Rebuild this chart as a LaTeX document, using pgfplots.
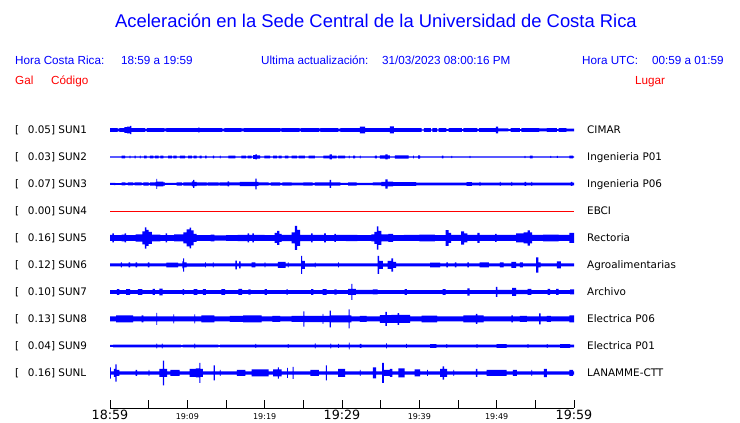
\documentclass[border=0pt]{standalone}
\usepackage{pgfplots}
\pgfplotsset{compat=1.18}
\usepackage{pgfplotstable}
\usepgfplotslibrary{fillbetween}
\usepackage{fontspec}
\setmainfont{DejaVu Sans}
\newfontfamily\arial{Liberation Sans}
\definecolor{tblue}{RGB}{0,0,255}
\definecolor{tred}{RGB}{255,0,0}

% envelopes: t = minutes after 18:59, a = half amplitude (px)
\pgfplotstableread{
t a
0 1.8
1.0 1.4
1.2 1.8
1.85 2.8
2.2 3.3
2.6 4.2
2.75 1.8
4.5 1.4
4.8 1.8
7.0 1.5
7.3 1.8
11.4 2.4
11.6 1.8
14.5 1.4
14.8 1.8
17.0 1.5
17.3 1.8
22.0 1.5
22.2 1.8
24.5 1.5
24.7 1.8
27.0 1.5
27.2 1.8
29.5 1.4
29.8 1.8
32.3 3.3
33.0 1.8
36.2 3.5
36.7 1.8
40.3 0.6
40.6 1.8
41.5 0.6
41.7 1.8
42.3 0.6
42.5 1.8
43.5 0.8
43.8 1.8
45.5 0.8
45.7 1.8
47.5 0.8
47.7 1.8
49.9 3.3
50.2 1.5
51.5 0.8
51.8 1.8
53.0 0.8
53.2 1.8
55.5 1.5
56.5 1.8
57.8 0.8
58.0 1.8
59.0 1.3
60 1.3
}\sunA
\pgfplotstableread{
t a
0 0.6
1.5 1.4
1.95 0.6
2.55 1.4
2.65 0.6
3.2 1.4
3.3 0.6
3.85 1.4
3.95 0.6
4.4 1.4
4.75 0.6
5.15 1.4
5.6 0.6
5.8 1.4
6.3 0.6
6.5 1.4
6.9 0.6
7.5 1.4
8.0 0.6
8.2 1.4
8.6 0.6
9.05 1.4
9.7 0.6
10.1 1.4
10.6 0.6
10.8 1.4
11.2 0.6
11.6 1.4
11.85 0.6
12.3 1.4
12.5 0.6
13.3 1.4
13.45 0.6
14.2 1.4
14.3 0.6
15.3 1.4
16.2 0.6
17.0 1.4
17.6 0.6
17.8 1.4
18.3 0.6
18.5 1.8
18.8 2.5
19.0 1.6
19.4 0.6
19.95 1.4
20.7 0.6
21.1 1.4
21.6 0.6
21.8 1.4
22.2 0.6
22.6 1.4
23.05 0.6
23.5 1.4
24.2 0.6
24.4 1.4
25.2 0.6
25.7 1.4
26.5 0.6
27.6 1.4
28.4 2.5
28.7 1.4
29.3 0.6
29.5 1.4
30.4 0.6
30.9 1.4
31.0 0.6
31.45 1.4
31.7 0.6
32.3 1.4
32.4 0.6
34.25 1.4
34.5 0.6
34.9 1.6
35.6 2.5
35.9 1.6
36.2 0.6
36.85 1.6
38.6 0.6
39.2 1.4
39.3 0.6
39.85 1.6
40.1 0.6
42.9 1.4
43.1 0.6
44.15 1.2
44.25 0.6
46.5 1.2
46.6 0.6
53.6 1.2
53.7 0.6
54.3 1.4
54.65 0.6
56.95 1.0
57.05 0.6
57.8 1.0
57.9 0.6
59.4 1.4
59.9 0.6
60 0.6
}\sunB
\pgfplotstableread{
t a
0 1.0
0.5 1.2
0.7 0.9
1.5 1.5
2.0 1.0
2.3 1.5
3.0 1.0
3.2 1.5
4.1 1.0
4.3 1.6
5.0 1.1
5.2 1.6
5.9 2.2
6.0 5.0
6.1 2.4
6.9 1.6
7.1 1.0
8.6 1.7
9.3 1.2
9.5 1.7
10.6 2.5
10.75 4.0
10.9 2.2
11.2 1.7
12.5 1.3
12.7 1.7
14.0 1.3
14.2 1.7
15.2 2.5
15.4 1.5
16.8 2.2
18.8 5.3
18.95 2.0
19.2 1.5
20.5 1.1
20.8 1.6
22.0 1.1
22.3 1.6
23.5 1.3
25.0 1.6
26.2 1.2
26.5 1.6
28.4 4.0
28.6 1.7
29.8 1.0
30.8 1.7
31.9 1.2
34.0 1.5
35.1 2.2
35.6 4.7
35.9 2.4
36.6 1.8
39.6 1.3
41.0 1.3
46.1 1.9
46.8 1.4
47.8 2.0
47.9 1.4
50.4 2.0
50.5 1.4
51.9 2.0
52.0 1.4
53.6 2.0
53.8 1.4
54.5 2.0
54.6 1.4
59.6 2.0
59.8 1.4
60 1.4
}\sunC
\pgfplotstableread{
t a
0 3.0
0.3 4.5
0.5 2.8
1.5 3.3
1.9 4.5
2.1 2.8
3.3 3.6
4.2 6.5
4.5 10.7
4.7 8.0
5.0 6.0
5.4 3.3
6.5 2.8
7.2 4.5
7.4 2.8
8.3 3.5
9.5 5.5
9.9 8.5
10.3 10.3
10.5 7.5
10.8 4.0
11.2 2.8
13.0 3.3
13.5 2.6
15.0 2.8
16.5 3.2
17.8 4.5
18.0 3.0
18.4 4.5
18.6 3.0
20.0 2.8
21.3 5.0
21.6 7.0
21.9 4.0
22.2 3.2
23.5 5.5
23.9 12.0
24.2 8.0
24.6 3.2
26.0 4.5
26.2 3.0
27.7 4.5
27.9 2.8
29.0 4.0
29.2 3.0
30.5 3.2
32.0 2.8
33.8 3.5
34.2 6.0
34.5 11.7
34.7 7.0
35.1 3.5
36.0 4.0
36.6 2.8
38.0 3.0
40.0 3.3
42.0 2.8
43.4 7.8
43.8 5.0
44.1 3.0
45.4 6.7
45.8 4.5
46.2 3.0
47.5 5.0
47.8 3.0
49.8 4.0
50.0 3.0
52.5 4.5
53.5 5.5
54.0 7.7
54.3 5.5
54.6 3.0
56.0 3.3
58.0 3.0
59.4 5.0
60 5.0
}\sunE
\pgfplotstableread{
t a
0 1.5
1.4 2.5
1.55 1.5
2.4 2.5
2.6 1.5
3.3 2.5
3.5 1.5
4.9 2.5
5.1 1.5
7.3 2.3
8.8 1.5
9.35 3.5
9.45 6.7
9.6 2.5
9.9 1.6
12.3 2.5
12.4 1.5
13.3 2.5
13.4 1.5
16.2 4.3
16.4 1.5
16.7 3.5
16.9 1.5
18.3 2.5
18.8 1.5
20.0 2.5
20.1 1.5
21.7 3.0
22.7 1.5
23.0 2.5
23.1 1.5
24.7 9.0
24.85 4.0
25.2 1.6
26.5 2.3
26.6 1.5
29.5 2.5
29.6 1.5
34.6 9.0
34.8 4.0
35.3 1.6
35.9 4.0
36.4 6.7
36.6 3.0
37.0 1.5
41.4 2.3
42.7 1.5
43.5 2.5
43.7 1.5
44.6 2.5
44.8 1.5
46.2 2.5
46.4 1.5
47.8 2.5
49.0 1.5
50.4 2.5
50.9 1.5
51.9 3.0
52.5 1.5
53.0 2.5
53.4 1.5
55.1 7.7
55.4 2.5
55.7 1.5
57.8 3.5
58.3 1.5
60 1.5
}\sunF
\pgfplotstableread{
t a
0 1.8
0.9 2.8
1.2 1.8
2.1 2.8
2.6 1.8
3.6 2.8
4.2 1.8
5.5 3.0
5.8 1.8
6.4 3.3
6.8 1.8
9.4 2.8
9.6 1.8
10.8 2.8
11.3 1.8
12.0 2.8
12.4 1.8
14.4 2.8
14.9 1.8
16.6 3.0
17.1 1.8
17.9 2.6
18.2 1.8
20.0 2.8
20.3 1.8
22.8 2.6
23.0 1.8
26.0 2.8
26.3 1.8
27.5 2.8
28.0 1.8
29.0 2.6
29.3 1.8
30.8 3.0
31.2 8.0
31.35 3.0
31.8 2.2
34.0 2.5
34.6 1.8
38.1 2.8
38.4 1.8
43.0 2.8
43.4 1.8
46.2 3.7
46.5 1.8
49.9 5.0
50.1 2.2
52.0 4.0
52.5 2.2
54.0 3.0
54.5 1.8
56.6 3.0
56.9 1.8
57.7 3.0
58.0 1.8
59.5 2.5
60 2.5
}\sunG
\pgfplotstableread{
t a
0 2.5
0.8 3.5
3.0 2.5
4.1 3.5
4.3 2.5
6.0 6.0
6.1 2.5
8.2 4.5
8.3 2.5
10.9 4.5
11.0 2.5
11.8 3.5
13.5 2.5
15.5 3.0
17.2 3.5
19.6 2.5
21.0 3.0
22.0 2.5
23.5 3.0
25.0 7.7
25.15 3.2
27.5 5.0
27.6 3.2
28.4 8.3
28.55 3.5
30.85 9.5
31.0 3.5
31.2 2.5
32.3 3.0
33.2 2.5
34.9 3.8
35.6 7.0
35.8 3.8
36.4 4.0
37.2 5.8
37.4 4.0
38.8 2.5
40.3 3.3
42.3 2.5
45.7 3.5
47.3 5.0
47.5 3.5
48.3 2.5
51.9 3.5
52.1 2.5
53.0 3.0
53.9 2.5
55.5 5.5
55.7 2.5
56.5 3.0
57.0 2.5
59.4 3.5
60 3.5
}\sunH
\pgfplotstableread{
t a
0 1.0
0.4 1.4
6.0 2.3
6.1 1.4
6.7 2.3
6.8 1.4
9.2 0.8
9.4 1.4
10.9 2.3
11.0 1.4
14.0 0.9
14.2 1.4
18.8 2.0
18.9 1.4
23.0 1.8
23.1 1.4
26.5 2.5
26.6 1.4
28.5 2.3
28.6 1.4
29.5 2.0
29.6 1.4
30.9 3.3
31.0 1.4
32.3 2.0
32.5 1.4
35.7 2.5
35.8 1.4
38.3 2.0
38.4 1.4
41.4 1.9
42.2 1.4
43.5 1.9
43.6 1.4
47.4 1.9
47.5 1.4
50.0 1.9
51.3 1.4
54.0 1.9
54.1 1.4
56.5 1.9
56.6 1.4
58.2 1.9
59.5 1.4
60 1.4
}\sunI
\pgfplotstableread{
t a
0 5.7
0.1 1.7
0.5 4.0
0.7 8.7
0.85 3.0
1.2 1.7
3.3 3.0
3.5 1.7
5.0 3.0
5.1 1.7
6.4 4.0
6.85 12.3
7.0 4.0
7.4 1.7
7.8 3.0
9.0 1.7
10.3 4.0
11.1 4.5
11.55 10.0
11.7 4.0
12.0 1.7
13.4 7.5
13.55 1.7
14.2 3.0
14.3 1.7
16.4 3.0
17.5 1.7
18.3 3.5
20.5 1.7
21.1 3.5
21.7 5.7
21.85 3.5
22.2 1.7
22.9 5.0
23.0 1.7
23.6 6.0
23.75 1.7
25.9 3.0
27.0 1.7
27.9 7.5
28.05 1.7
29.5 4.0
30.4 1.7
32.3 3.0
32.4 1.7
34.0 5.5
34.4 1.7
35.2 10.0
35.4 3.0
36.2 4.0
36.5 1.7
37.3 4.5
38.1 1.7
39.4 3.5
40.1 1.7
41.0 3.0
41.1 1.7
42.7 4.0
43.0 6.7
43.2 4.0
43.6 1.7
44.4 3.0
44.5 1.7
47.3 4.0
47.5 1.7
48.7 3.0
51.3 1.7
52.1 3.0
52.6 1.7
54.5 3.0
54.6 1.7
56.1 4.2
56.5 1.7
59.4 3.0
59.9 1.7
60 1.7
}\sunL

\newcommand{\trace}[3]{%
  \addplot[draw=none, const plot, name path=u#3] table[x=t, y expr=#2+\thisrow{a}] {#1};
  \addplot[draw=none, const plot, name path=l#3] table[x=t, y expr=#2-\thisrow{a}] {#1};
  \addplot[tblue] fill between[of=u#3 and l#3];
}

\begin{document}
\begin{tikzpicture}[x=1pt,y=1pt]
\begin{axis}[
  at={(110pt,15pt)}, anchor=south west,
  width=464pt, height=408pt, scale only axis,
  xmin=0, xmax=60, ymin=15, ymax=423,
  axis x line=bottom, axis y line=none,
  x axis line style={-, black, line width=0.8pt},
  tick align=inside, major tick length=8pt,
  every tick/.style={black, line width=0.8pt},
  xtick={0,5,...,60},
  xticklabels={{\fontsize{12.7}{14}\selectfont 18:59},{},{\fontsize{8}{9}\selectfont 19:09},{},{\fontsize{8}{9}\selectfont 19:19},{},{\fontsize{12.7}{14}\selectfont 19:29},{},{\fontsize{8}{9}\selectfont 19:39},{},{\fontsize{8}{9}\selectfont 19:49},{},{\fontsize{12.7}{14}\selectfont 19:59}},
  xticklabel style={anchor=base, inner sep=0pt, yshift=-12pt},
  clip=false,
]
\trace{\sunA}{293}{a}
\trace{\sunB}{266}{b}
\trace{\sunC}{239}{c}
\addplot[tred, line width=0.8pt] coordinates {(0,212) (60,212)};
\trace{\sunE}{185}{e}
\trace{\sunF}{158}{f}
\trace{\sunG}{131}{g}
\trace{\sunH}{104}{h}
\trace{\sunI}{77}{i}
\trace{\sunL}{50}{l}
\end{axis}

% header
\node[anchor=base, inner sep=0pt, text=tblue, font=\arial\fontsize{18.4}{20}\selectfont] at (376,395.5) {Aceleración en la Sede Central de la Universidad de Costa Rica};
\begin{scope}[every node/.style={anchor=base west, inner sep=0pt, font=\arial\fontsize{11.7}{13}\selectfont}]
\node[text=tblue] at (15,358.5) {Hora Costa Rica:};
\node[text=tblue] at (121,358.5) {18:59 a 19:59};
\node[text=tblue] at (261,358.5) {Ultima actualización:};
\node[text=tblue] at (382,358.5) {31/03/2023 08:00:16 PM};
\node[text=tblue] at (582,358.5) {Hora UTC:};
\node[text=tblue] at (652,358.5) {00:59 a 01:59};
\node[text=tred] at (15,338.5) {Gal};
\node[text=tred] at (51,338.5) {Código};
\node[text=tred] at (635,338.5) {Lugar};
\end{scope}

% row labels
\begin{scope}[every node/.style={anchor=base west, inner sep=0pt, font=\fontsize{10.4}{12}\selectfont}]
\foreach \y/\v/\c/\p in {289/0.05/SUN1/CIMAR, 262/0.03/SUN2/Ingenieria P01, 235/0.07/SUN3/Ingenieria P06, 208/0.00/SUN4/EBCI, 181/0.16/SUN5/Rectoria, 154/0.12/SUN6/Agroalimentarias, 127/0.10/SUN7/Archivo, 100/0.13/SUN8/Electrica P06, 73/0.04/SUN9/Electrica P01, 46/0.16/SUNL/LANAMME-CTT}{
  \node at (15,\y) {[};
  \node at (27.7,\y) {\v] \c};
  \node at (587,\y) {\p};
}
\end{scope}
\pgfresetboundingbox
\useasboundingbox (0,0) rectangle (740,423);
\end{tikzpicture}
\end{document}
